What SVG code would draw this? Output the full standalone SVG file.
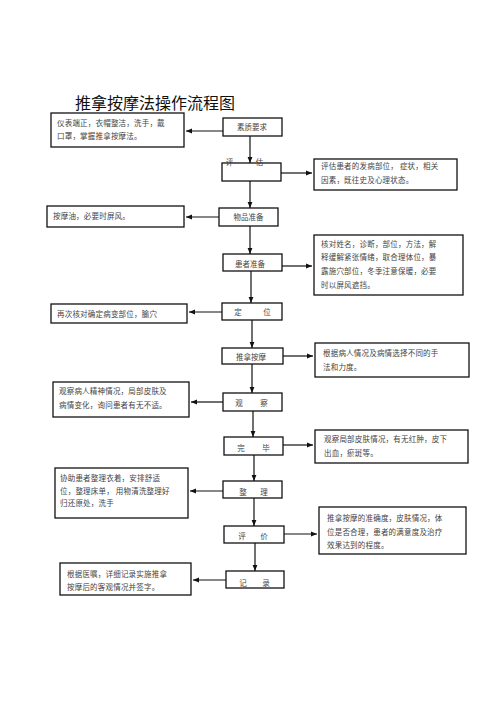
<svg xmlns="http://www.w3.org/2000/svg" width="500" height="708" viewBox="0 0 500 708">
<style>
.bx{fill:#fff;stroke:#111;stroke-width:1.3}
.t{font-family:"Noto Sans CJK SC","Liberation Serif",serif;font-size:7.5px;fill:#444;letter-spacing:0.2px}
.c{font-family:"Noto Sans CJK SC","Liberation Serif",serif;font-size:7.5px;fill:#444;text-anchor:middle}
.ln{stroke:#111;stroke-width:1.2;fill:none}
.title{font-family:"Noto Sans CJK SC","Liberation Sans",sans-serif;font-size:16px;fill:#111}
</style>
<defs>
<marker id="ah" markerUnits="userSpaceOnUse" markerWidth="6" markerHeight="6" viewBox="0 0 6 6" refX="6" refY="3" orient="auto">
<path d="M0,0.6 L6,3 L0,5.4 Z" fill="#111"/>
</marker>
</defs>
<rect width="500" height="708" fill="#fff"/>
<text class="title" x="75" y="109">推拿按摩法操作流程图</text>

<g id="connectors">
<line class="ln" x1="250" y1="136" x2="250" y2="163" marker-end="url(#ah)"/>
<line class="ln" x1="250" y1="181" x2="250" y2="208" marker-end="url(#ah)"/>
<line class="ln" x1="250" y1="226" x2="250" y2="254" marker-end="url(#ah)"/>
<line class="ln" x1="251" y1="271" x2="251" y2="303" marker-end="url(#ah)"/>
<line class="ln" x1="252" y1="320" x2="252" y2="348" marker-end="url(#ah)"/>
<line class="ln" x1="252" y1="364" x2="252" y2="393" marker-end="url(#ah)"/>
<line class="ln" x1="253" y1="411" x2="253" y2="437" marker-end="url(#ah)"/>
<line class="ln" x1="254" y1="455" x2="254" y2="481" marker-end="url(#ah)"/>
<line class="ln" x1="254" y1="498" x2="254" y2="526" marker-end="url(#ah)"/>
<line class="ln" x1="255" y1="543" x2="255" y2="571" marker-end="url(#ah)"/>
<line class="ln" x1="223" y1="131" x2="186" y2="131" marker-end="url(#ah)"/>
<line class="ln" x1="281" y1="173" x2="312" y2="173" marker-end="url(#ah)"/>
<line class="ln" x1="219" y1="217" x2="186" y2="217" marker-end="url(#ah)"/>
<line class="ln" x1="282" y1="266" x2="312" y2="266" marker-end="url(#ah)"/>
<line class="ln" x1="222" y1="312" x2="189" y2="312" marker-end="url(#ah)"/>
<line class="ln" x1="283" y1="356" x2="313" y2="356" marker-end="url(#ah)"/>
<line class="ln" x1="223" y1="402" x2="191" y2="402" marker-end="url(#ah)"/>
<line class="ln" x1="283" y1="445" x2="313" y2="445" marker-end="url(#ah)"/>
<line class="ln" x1="223" y1="491" x2="190" y2="491" marker-end="url(#ah)"/>
<line class="ln" x1="284" y1="534" x2="317" y2="534" marker-end="url(#ah)"/>
<line class="ln" x1="226" y1="580" x2="193" y2="580" marker-end="url(#ah)"/>
</g>

<g id="n-suzhi"><rect class="bx" x="223" y="118" width="59" height="18"/><text class="c" x="252" y="130">素质要求</text></g>
<g id="n-pinggu"><rect class="bx" x="222" y="163" width="59" height="18"/><text class="c" x="229.5" y="165">评</text><text class="c" x="259.5" y="165">估</text></g>
<g id="n-wupin"><rect class="bx" x="219" y="208" width="59" height="18"/><text class="c" x="248.5" y="220">物品准备</text></g>
<g id="n-huanzhe"><rect class="bx" x="223" y="254" width="59" height="17"/><text class="c" x="250" y="267">患者准备</text></g>
<g id="n-dingwei"><rect class="bx" x="222" y="303" width="60" height="17"/><text class="c" x="238" y="315">定</text><text class="c" x="267" y="315">位</text></g>
<g id="n-tuina"><rect class="bx" x="222" y="348" width="61" height="16"/><text class="c" x="251" y="360">推拿按摩</text></g>
<g id="n-guancha"><rect class="bx" x="223" y="393" width="59" height="18"/><text class="c" x="239" y="406">观</text><text class="c" x="264" y="406">察</text></g>
<g id="n-wanbi"><rect class="bx" x="224" y="437" width="59" height="18"/><text class="c" x="241" y="451">完</text><text class="c" x="266" y="451">毕</text></g>
<g id="n-zhengli"><rect class="bx" x="223" y="481" width="59" height="17"/><text class="c" x="243" y="495">整</text><text class="c" x="264" y="495">理</text></g>
<g id="n-pingjia"><rect class="bx" x="224" y="526" width="60" height="17"/><text class="c" x="242" y="539">评</text><text class="c" x="264" y="539">价</text></g>
<g id="n-jilu"><rect class="bx" x="226" y="571" width="58" height="17"/><text class="c" x="243" y="586">记</text><text class="c" x="266" y="586">录</text></g>

<g id="l1"><rect class="bx" x="51" y="113" width="133" height="34"/><text class="t" x="57" y="126">仪表端正，衣帽整洁，洗手，戴</text><text class="t" x="57" y="139">口罩，掌握推拿按摩法。</text></g>
<g id="l2"><rect class="bx" x="47" y="206" width="137" height="21"/><text class="t" x="53" y="219">按摩油，必要时屏风。</text></g>
<g id="l3"><rect class="bx" x="51" y="304" width="136" height="19"/><text class="t" x="57" y="317">再次核对确定病变部位，腧穴</text></g>
<g id="l4"><rect class="bx" x="53" y="382" width="136" height="35"/><text class="t" x="59" y="394">观察病人精神情况，局部皮肤及</text><text class="t" x="59" y="408">病情变化，询问患者有无不适。</text></g>
<g id="l5"><rect class="bx" x="55" y="468" width="133" height="50"/><text class="t" x="60" y="481">协助患者整理衣着，安排舒适</text><text class="t" x="60" y="494">位，整理床单， 用物清洗整理好</text><text class="t" x="60" y="506">归还原处，洗手</text></g>
<g id="l6"><rect class="bx" x="60" y="563" width="131" height="32"/><text class="t" x="67" y="577">根据医嘱，详细记录实施推拿</text><text class="t" x="67" y="590">按摩后的客观情况并签字。</text></g>

<g id="r1"><rect class="bx" x="314" y="159" width="143" height="31"/><text class="t" x="321" y="169">评估患者的发病部位，   症状，相关</text><text class="t" x="321" y="183">因素，既往史及心理状态。</text></g>
<g id="r2"><rect class="bx" x="314" y="235" width="149" height="60"/><text class="t" x="321" y="247">核对姓名，诊断，部位，方法，解</text><text class="t" x="321" y="260">释缓解紧张情绪，取合理体位，暴</text><text class="t" x="321" y="274">露施穴部位，冬季注意保暖，必要</text><text class="t" x="321" y="288">时以屏风遮挡。</text></g>
<g id="r3"><rect class="bx" x="315" y="343" width="154" height="34"/><text class="t" x="323" y="356">根据病人情况及病情选择不同的手</text><text class="t" x="323" y="370">法和力度。</text></g>
<g id="r4"><rect class="bx" x="315" y="430" width="153" height="33"/><text class="t" x="324" y="442">观察局部皮肤情况，有无红肿，皮下</text><text class="t" x="324" y="456">出血，瘀斑等。</text></g>
<g id="r5"><rect class="bx" x="319" y="507" width="147" height="47"/><text class="t" x="327" y="521">推拿按摩的准确度，皮肤情况，体</text><text class="t" x="327" y="535">位是否合理，患者的满意度及治疗</text><text class="t" x="327" y="548">效果达到的程度。</text></g>
</svg>
